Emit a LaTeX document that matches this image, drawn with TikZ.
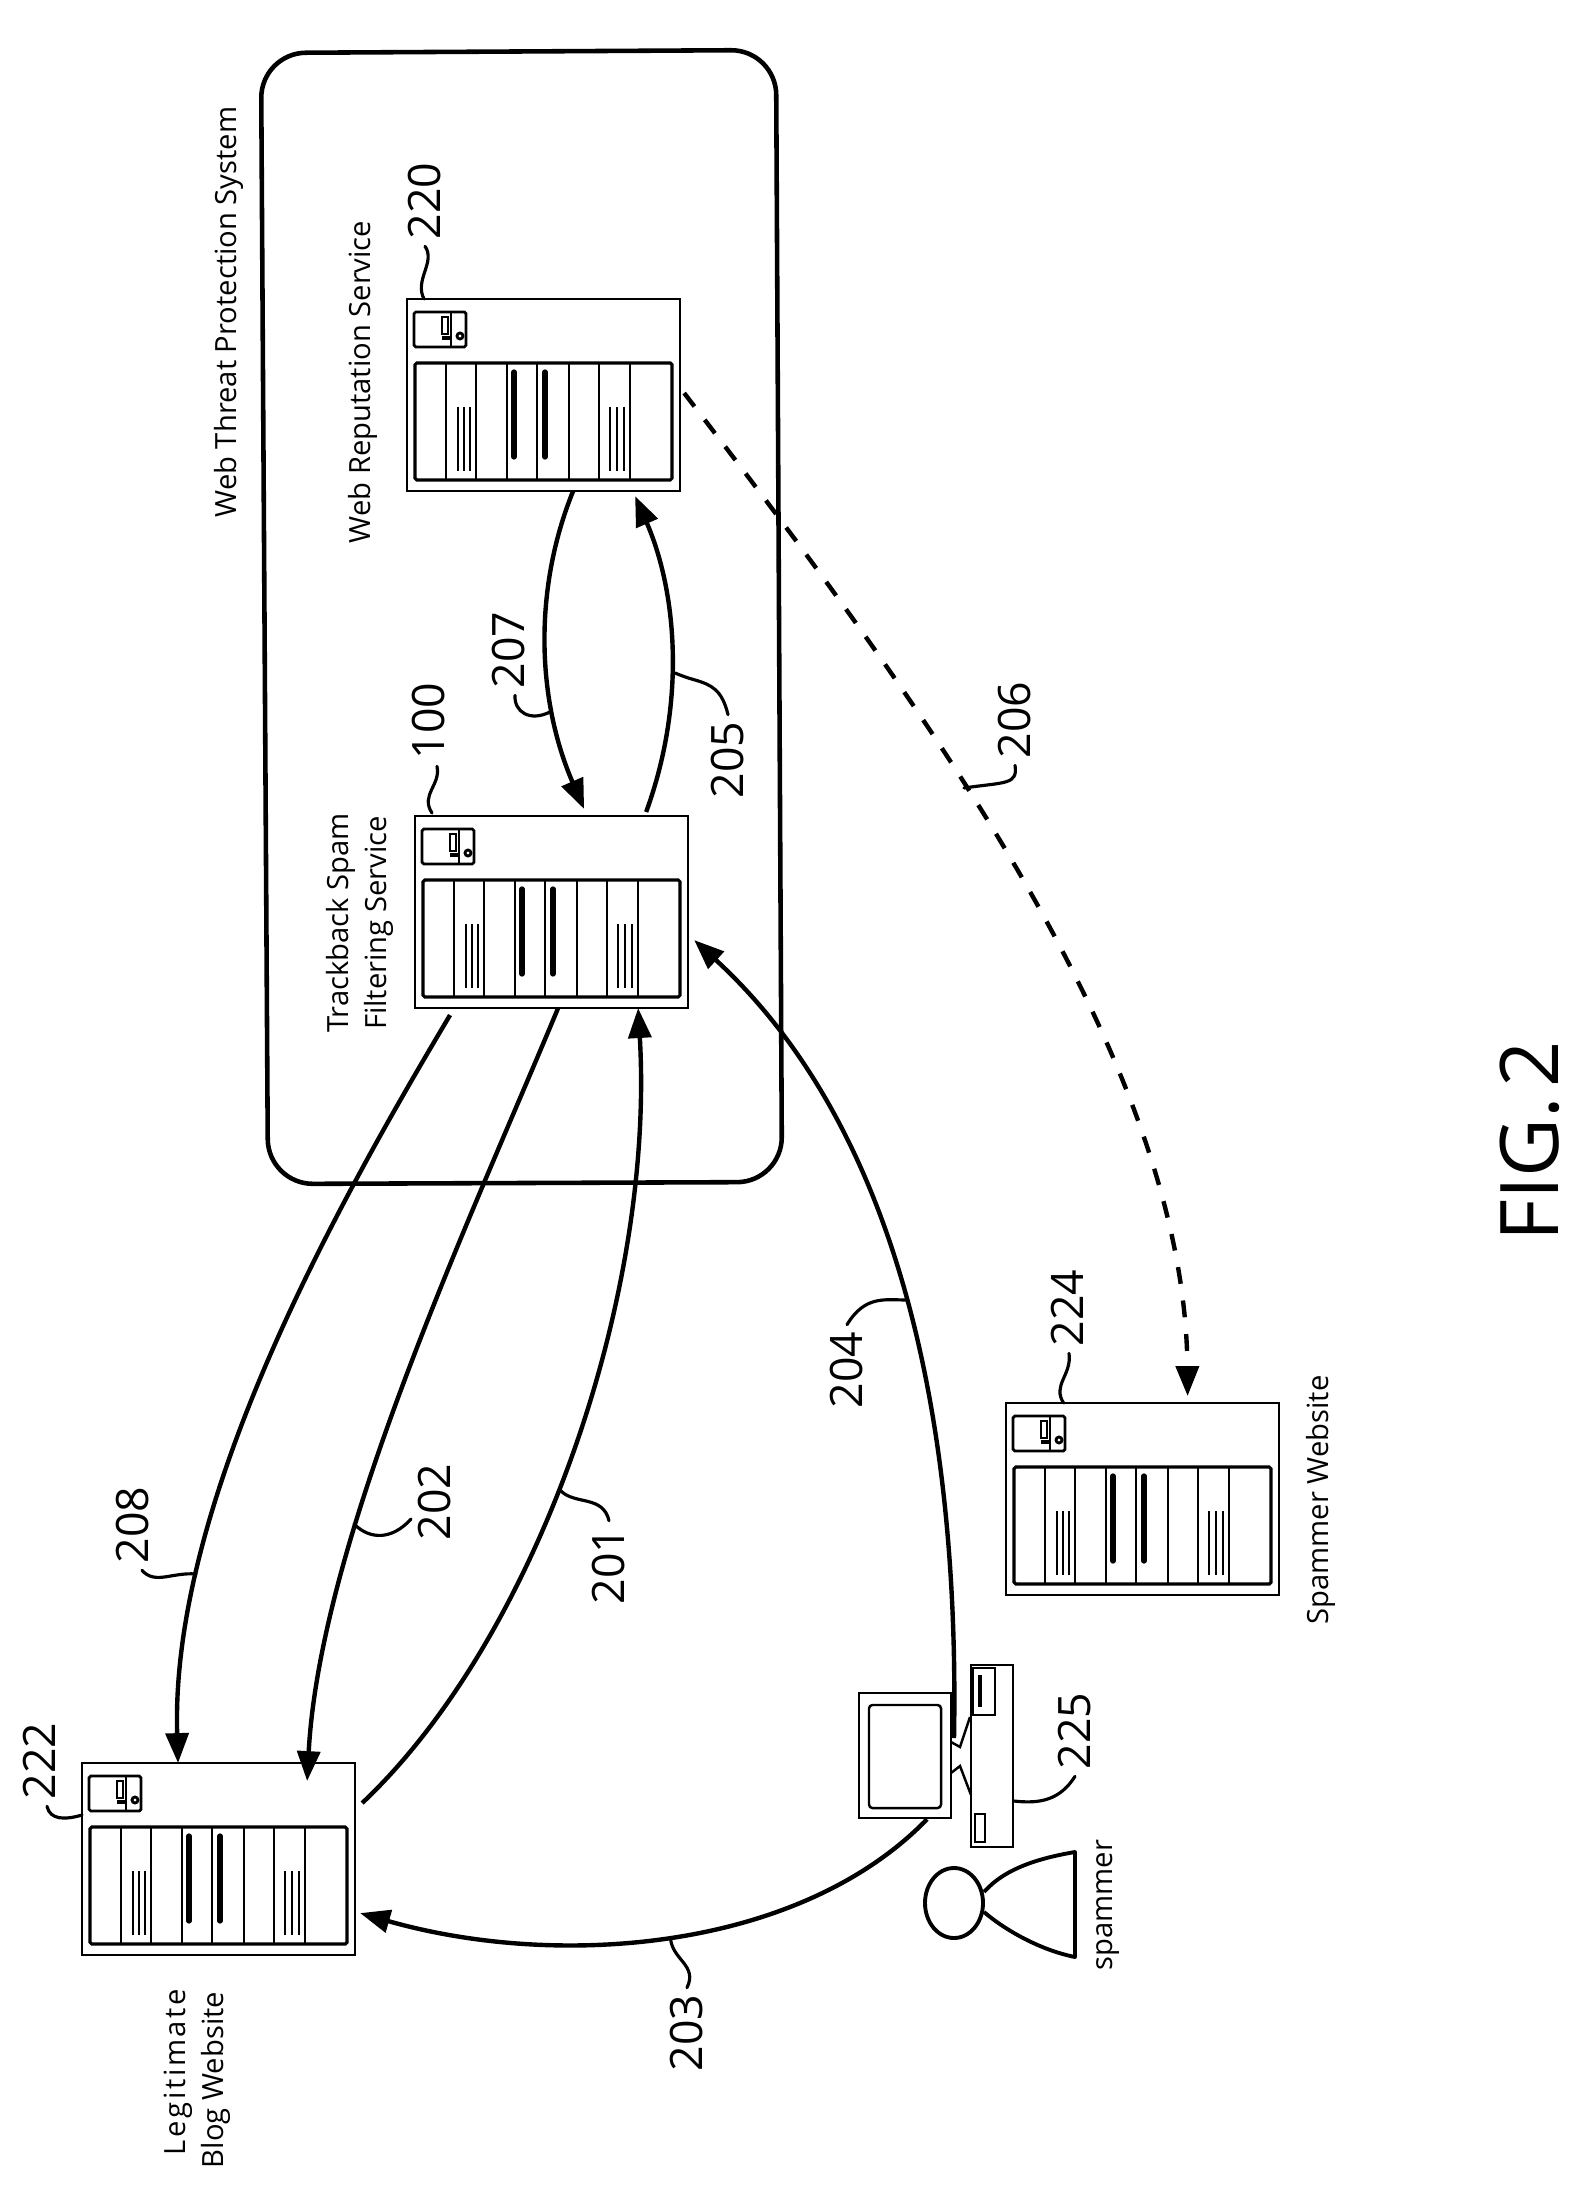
\documentclass[tikz,border=0pt]{standalone}
\usepackage{fontspec}
\setmainfont{Open Sans}
\usetikzlibrary{arrows.meta}
\tikzset{
    flow/.style={line width=1.25pt},
    flowarrow/.style={flow, -{Triangle[length=8.5pt,width=6.5pt]}},
    dashedarrow/.style={flowarrow, dash pattern=on 4.8pt off 4.8pt},
    leader/.style={line width=0.9pt, line cap=round},
    hwline/.style={line width=0.7pt},
    caption/.style={rotate=90, align=center, inner sep=0pt, font=\fontsize{8.3}{10.8}\selectfont},
    refnum/.style={rotate=90, inner sep=0pt, outer sep=2pt, font=\fontsize{12.7}{14}\selectfont},
    pics/webserver/.style={code={
        \node[draw, hwline, anchor=north west, inner sep=0pt, outer sep=0pt,
              minimum width=2.73cm, minimum height=1.92cm] (box) at (0,0) {};
        % drive bay
        \draw[line width=0.8pt, rounded corners=0.5pt] (7,13) rectangle (59,48);
        \draw[hwline] (44,13) -- (44,48);
        \draw[hwline] (35,18) rectangle (41,35);
        \draw[line width=1.2pt] (35,39) -- (43,39);
        \draw[line width=0.8pt] (53,37) circle (3);
        % panel
        \draw[line width=0.9pt, rounded corners=0.5pt] (8,64) rectangle (265,181);
        \foreach \slot in {39,69,100,130,162,192,223}
            \draw[line width=0.7pt] (\slot,64) -- (\slot,181);
        \foreach \bar in {107,138}
            \draw[line width=1.5pt, line cap=round] (\bar,73) -- (\bar,158);
        \foreach \rib in {51,57,63,203,210,217}
            \draw[line width=0.6pt] (\rib,108) -- (\rib,172);
    }}
}

\begin{document}
\begin{tikzpicture}[x=0.01cm, y=-0.01cm]
    \useasboundingbox (0,0) rectangle (1580,2192);

    % System outline
    \draw[line width=1.3pt, rounded corners=0.45cm]
        (261,53) -- (776,50) -- (782,1182) -- (268,1184) -- cycle;
    \node[caption] (system) at (229,312) {Web Threat Protection System};

    % Servers
    \pic (webrep-) at (407,299) {webserver};
    \pic (trackback-) at (415,816) {webserver};
    \pic (legit-) at (82,1763) {webserver};
    \pic (spamsite-) at (1006,1403) {webserver};
    \node[caption] (webrepname) at (363,382) {Web Reputation Service};
    \node[caption] (trackbackname) at (360,923) {Trackback Spam\\Filtering Service};
    \node[caption] (legitname) at (197,2080) {\hspace*{.16cm}{\addfontfeatures{LetterSpace=9}Legitimate}\\Blog Website};
    \node[caption] (spamsitename) at (1321,1500) {Spammer Website};

    % Computer
    \node[draw, hwline, inner sep=0pt, minimum width=0.92cm, minimum height=1.25cm] (monitor) at (905,1755.5) {};
    \node[draw, hwline, inner sep=0pt, rounded corners=1pt, minimum width=0.72cm, minimum height=1.03cm] at (905,1756.5) (screen) {};
    \node[draw, hwline, inner sep=0pt, minimum width=0.42cm, minimum height=1.82cm] (tower) at (992,1756) {};
    \draw[hwline] (951,1742) -- (960,1747) -- (970,1717);
    \draw[hwline] (951,1773) -- (960,1766) -- (971,1795);
    \draw[hwline] (973,1668) rectangle (995,1715);
    \draw[line width=1pt] (980,1675) -- (980,1707);
    \draw[hwline] (975,1814) rectangle (985,1842);

    % Spammer
    \draw[line width=1.1pt] (954,1903) ellipse (29 and 35);
    \draw[line width=1.1pt, line join=round] (984,1892) .. controls (1005,1868) and (1040,1858) .. (1075,1852)
        -- (1075,1957) .. controls (1040,1950) and (1005,1930) .. (984,1912);
    \node[caption] (spammername) at (1108.5,1905) {spammer};

    % Flows
    \coordinate (s204) at (954,1738);
    \draw[flowarrow] ([xshift=.22cm]monitor.south) .. controls (800,1950) and (560,1970) .. ([xshift=.05cm,yshift=.42cm]legit-box.south east);
    \draw[flowarrow] (s204) .. controls (960,1400) and (890,1120) .. ([xshift=.06cm,yshift=.68cm]trackback-box.south east);
    \draw[flowarrow] ([xshift=.07cm,yshift=-.40cm]legit-box.north east) .. controls (535,1640) and (655,1300) .. ([xshift=2.23cm]trackback-box.south west);
    \draw[flowarrow] ([xshift=1.43cm]trackback-box.south west) .. controls (470,1220) and (320,1540) .. ([xshift=2.25cm,yshift=-.18cm]legit-box.north west);
    \draw[flowarrow] ([xshift=.35cm,yshift=-.07cm]trackback-box.south west) .. controls (340,1200) and (170,1500) .. ([xshift=.96cm]legit-box.north west);
    \draw[flowarrow] ([xshift=2.31cm,yshift=.04cm]trackback-box.north west) .. controls (687,700) and (676,590) .. ([xshift=2.28cm,yshift=-.05cm]webrep-box.south west);
    \draw[flowarrow] ([xshift=1.66cm]webrep-box.south west) .. controls (533,590) and (537,700) .. ([xshift=1.69cm,yshift=.07cm]trackback-box.north west);
    \draw[dashedarrow] ([xshift=.04cm,yshift=.98cm]webrep-box.south east) .. controls (920,700) and (1185,1060) .. ([xshift=1.815cm,yshift=.07cm]spamsite-box.north west);

    % Reference numbers
    \node[refnum] (n220) at (425,201) {220};
    \node[refnum] (n100) at (429,721) {100};
    \node[refnum] (n207) at (509,650) {207};
    \node[refnum] (n205) at (728,760) {205};
    \node[refnum] (n206) at (1015,720) {206};
    \node[refnum] (n202) at (434.5,1502) {202};
    \node[refnum] (n201) at (609,1566) {201};
    \node[refnum] (n204) at (847,1370) {204};
    \node[refnum] (n208) at (133,1525) {208};
    \node[refnum] (n222) at (39,1761) {222};
    \node[refnum] (n203) at (687,2033) {203};
    \node[refnum] (n224) at (1067,1308) {224};
    \node[refnum] (n225) at (1075,1731) {225};
    \node[rotate=90, inner sep=0pt, font=\fontsize{23}{26}\selectfont] (figname) at (1530,1141) {FIG.\hspace{.12em}2};

    % Leaders
    \coordinate (h205) at (675,673);
    \coordinate (h206) at (964,788);
    \coordinate (h207) at (550,712);
    \coordinate (h208) at (196,1574);
    \coordinate (h202) at (354,1524);
    \coordinate (h201) at (561,1491);
    \coordinate (h203) at (670.5,1938);
    \coordinate (h204) at (907,1300);
    \draw[leader] (n220.west) .. controls (436,262) and (414,280) .. ([xshift=.17cm]webrep-box.north west);
    \draw[leader] ([xshift=.08cm]n100.west) .. controls (441,785) and (420,795) .. ([xshift=.17cm,yshift=.03cm]trackback-box.north west);
    \draw[leader] ([xshift=.06cm]n207.west) .. controls (514,712) and (530,722) .. (h207);
    \draw[leader] (n205.east) .. controls (722,690) and (712,685) .. (695,680) .. controls (688,678) and (682,676) .. (h205);
    \draw[leader] (n206.west) .. controls (1018,785) and (1005,782) .. (h206);
    \draw[leader] ([xshift=.02cm]n224.west) .. controls (1072,1375) and (1052,1385) .. ([xshift=.575cm]spamsite-box.north west);
    \draw[leader] (n225.west) .. controls (1060,1800) and (1040,1804) .. ([yshift=-.45cm]tower.east);
    \draw[leader] ([xshift=.08cm]n222.west) .. controls (50,1820) and (65,1820) .. ([yshift=-.52cm]legit-box.north west);
    \draw[leader] ([xshift=.09cm]n208.west) .. controls (155,1585) and (172,1572) .. (h208);
    \draw[leader] ([yshift=-.17cm]n202.north) .. controls (392,1540) and (370,1540) .. (h202);
    \draw[leader] (n201.east) .. controls (603,1495) and (575,1505) .. (h201);
    \draw[leader] (n203.east) .. controls (698,1965) and (672,1960) .. (h203);
    \draw[leader] (n204.east) .. controls (865,1295) and (885,1300) .. (h204);
\end{tikzpicture}
\end{document}
